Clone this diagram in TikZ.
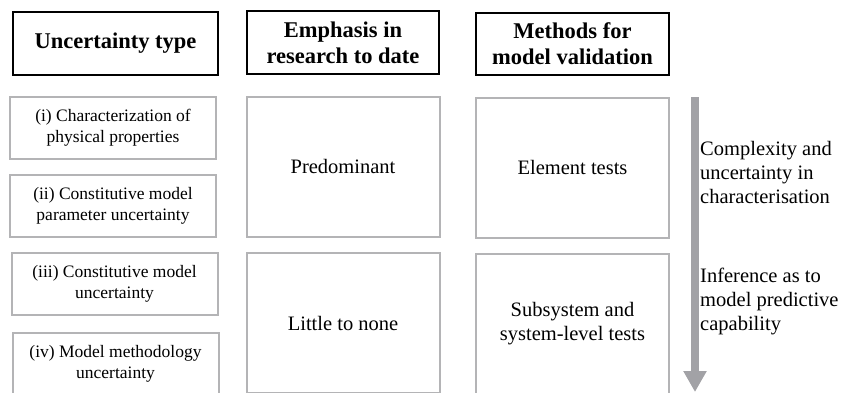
\documentclass[tikz,border=0pt]{standalone}
\usepackage{fontspec}
\setmainfont{Liberation Serif}
\usetikzlibrary{arrows.meta,positioning}
\definecolor{boxgray}{HTML}{B4B4B6}
\definecolor{arrgray}{HTML}{A2A2A6}
\tikzset{headbox/.style={rectangle,draw=black,line width=2.4pt,inner sep=0pt,align=center,
    font=\bfseries\fontsize{22.5}{26}\selectfont}}
\tikzset{typebox/.style={rectangle,draw=boxgray,line width=2pt,inner sep=0pt,align=center,
    minimum width=206pt,minimum height=62pt,font=\fontsize{17.5}{21}\selectfont}}
\tikzset{bigbox/.style={rectangle,draw=boxgray,line width=2pt,inner sep=0pt,align=center,
    minimum width=193pt,minimum height=140pt,font=\fontsize{20.5}{24}\selectfont}}
\tikzset{sidetext/.style={anchor=west,inner sep=0pt,align=left,font=\fontsize{20.5}{24}\selectfont}}

\begin{document}
\begin{tikzpicture}[x=1pt,y=1pt]
% \draw[help lines] (0,0) grid (844,-392);
\clip (0,0) rectangle (844,-392);
%
\node (hunc) [headbox,minimum width=205pt,minimum height=63pt] at (115.5,-43.5) {Uncertainty type};
\node (hemp) [headbox,minimum width=192pt,minimum height=63pt] at (343,-42.5) {Emphasis in\\research to date};
\node (hmet) [headbox,minimum width=193pt,minimum height=62pt] at (572.5,-44) {Methods for\\model validation};
%
\node (ui) [typebox] at (113,-128) {(i) Characterization of\\physical properties};
\node (uii) [typebox] at (113,-205.5) {(ii) Constitutive model\\parameter uncertainty};
\node (uiii) [typebox] at (114.5,-284) {(iii) Constitutive model\\uncertainty};
\node (uiv) [typebox] at (115.5,-364) {(iv) Model methodology\\uncertainty};
%
\node (epre) [bigbox] at (343,-166.5) {Predominant};
\node (elit) [bigbox] at (343,-323) {Little to none};
\node (mele) [bigbox] at (572.5,-167.5) {Element tests};
\node (msub) [bigbox] at (572.5,-323.5) {Subsystem and\\system-level tests};
%
\coordinate (arrtop) at (695,-97);
\coordinate (arrtip) at (695,-392);
\draw[-{Triangle[width=22pt,length=21pt]},line width=8pt,arrgray] (arrtop) -- (arrtip);
%
\node (cplx) [sidetext] at (700,-172) {Complexity and\\uncertainty in\\characterisation};
\node (infr) [sidetext] at (700,-301) {Inference as to\\model predictive\\capability};
\end{tikzpicture}
\end{document}
